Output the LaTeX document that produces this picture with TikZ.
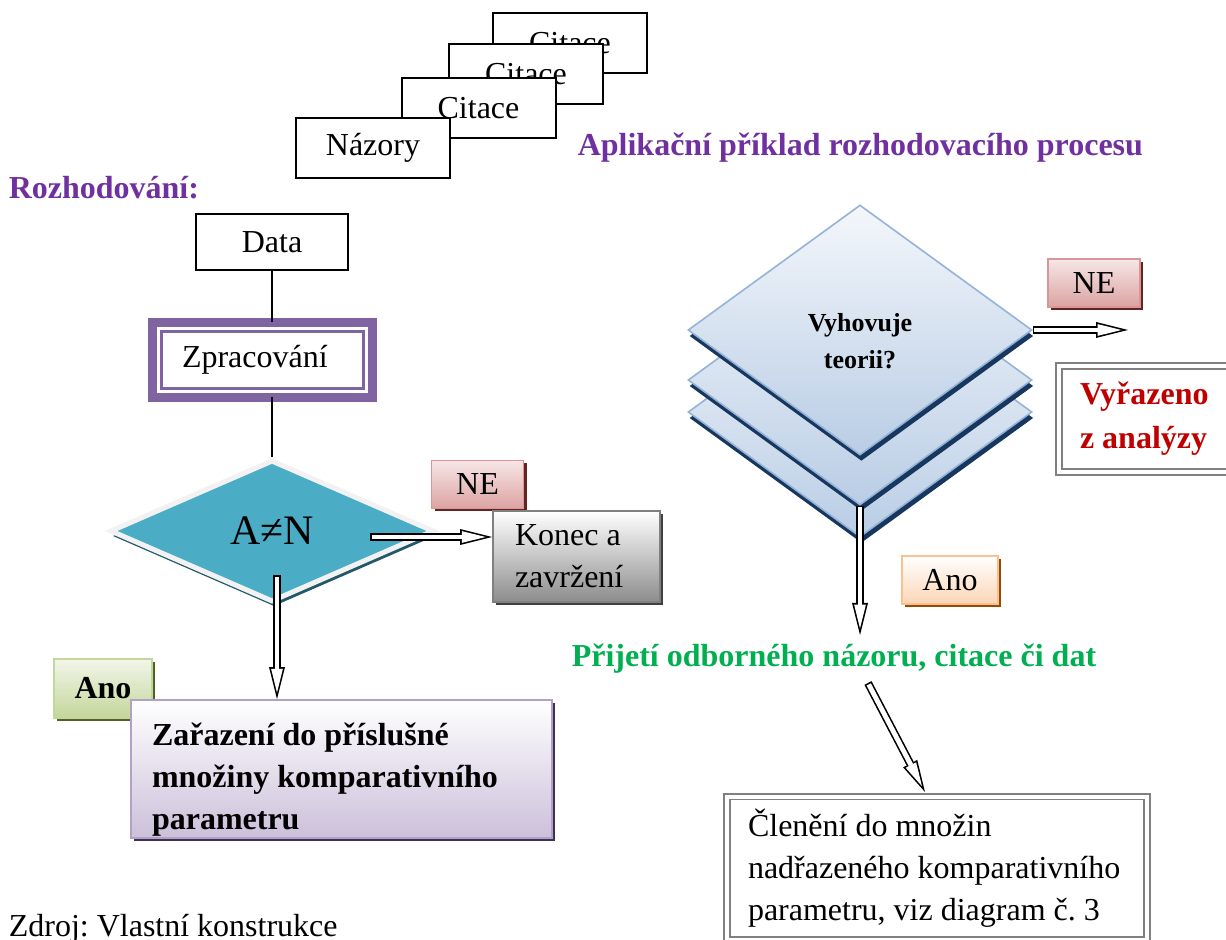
\documentclass[tikz,border=0pt]{standalone}
\usepackage{fontspec}
\setmainfont{Liberation Serif}
\usetikzlibrary{shapes.geometric, arrows.meta, shadows, positioning}
\frenchspacing

\definecolor{nadpisfial}{HTML}{7030A0}
\definecolor{ramfial}{HTML}{8064A2}
\definecolor{zelena}{HTML}{00B050}
\definecolor{cervena}{HTML}{C00000}
\definecolor{tyrkys}{HTML}{4BACC6}
\definecolor{tyrkysstin}{HTML}{215968}
\definecolor{nedraw}{HTML}{D99694}
\definecolor{netop}{HTML}{F7E6E6}
\definecolor{nebot}{HTML}{DBA3A2}
\definecolor{nestin}{HTML}{632523}
\definecolor{anodraw}{HTML}{C3D69B}
\definecolor{anotop}{HTML}{F2F6EA}
\definecolor{anobot}{HTML}{C3D69B}
\definecolor{anostin}{HTML}{4F6228}
\definecolor{zardraw}{HTML}{B2A1C7}
\definecolor{zarbot}{HTML}{CCC0DA}
\definecolor{zarstin}{HTML}{3F3151}
\definecolor{oranzdraw}{HTML}{FAC090}
\definecolor{oranzbot}{HTML}{FCD5B5}
\definecolor{oranzstin}{HTML}{984807}
\definecolor{modrdraw}{HTML}{95B3D7}
\definecolor{modrtop}{HTML}{F4F7FB}
\definecolor{modrbot}{HTML}{B9CDE5}
\definecolor{modrstin}{HTML}{17375E}

\begin{document}
\begin{tikzpicture}[x=0.5pt, y=-0.5pt, thick,
    every node/.style={font=\fontsize{16}{21}\selectfont},
    box/.style={draw, line width=1pt, fill=white, minimum width=77pt, minimum height=30pt, inner sep=0pt},
    nadpis/.style={anchor=base west, inner sep=0pt, font=\bfseries\fontsize{16}{21}\selectfont},
    ne/.style={draw=nedraw, line width=0.8pt, top color=netop, bottom color=nebot,
      drop shadow={shadow xshift=1.5pt, shadow yshift=-1.5pt, fill=nestin, opacity=1},
      minimum width=46pt, minimum height=24pt, inner sep=0pt},
    dbox/.style={draw=gray, line width=0.8pt, double=white, double distance=2pt,
      align=flush left, inner xsep=10.5pt, inner ysep=0pt},
    patro/.style={diamond, draw=modrdraw, line width=0.8pt, top color=modrtop, bottom color=modrbot,
      minimum width=172pt, minimum height=125pt, inner sep=0pt,
      drop shadow={shadow xshift=0.7pt, shadow yshift=-3pt, fill=modrstin, opacity=1}},
    sipka/.style={line width=4pt, -{Triangle[length=16pt 0, width=8pt 0, line width=0pt]},
      postaction={draw=white, line width=2.4pt, shorten <=0.8pt, shorten >=3.3pt,
        -{Triangle[length=11.9pt 0, width=5.9pt 0, line width=0pt]}}}]

  \useasboundingbox (0,0) rectangle (1226,940);

  \node[nadpis, text=nadpisfial] at (8,199) (H1) {Rozhodování:};
  \node[nadpis, text=nadpisfial] at (577,156) (H2) {Aplikační příklad rozhodovacího procesu};

  \node[box] at (570,43)      (C3) {Citace};
  \node[box] at (526,74.5)    (C2) {Citace};
  \node[box] at (478.5,108.5) (C1) {Citace};
  \node[box] at (373,148)     (N)  {Názory};

  \node[box, minimum width=76pt, minimum height=28pt] at (272,242) (D) {Data};
  \node[draw=ramfial, line width=4.5pt, outer sep=0pt, minimum width=110pt, minimum height=37.5pt,
        align=flush left, text width=80.5pt, inner xsep=14.75pt, inner ysep=0pt] at (262.5,360) (Zp) {Zpracování};
  \draw[ramfial, line width=1.3pt] ([xshift=4.4pt, yshift=-4.4pt]Zp.north west)
        rectangle ([xshift=-4.4pt, yshift=4.4pt]Zp.south east);

  \node[diamond, draw=black!5, line width=2.5pt, fill=tyrkys, minimum width=162pt, minimum height=71pt,
        inner sep=0pt, font=\fontsize{21}{25}\selectfont,
        drop shadow={shadow xshift=1pt, shadow yshift=-2.5pt, fill=tyrkysstin, opacity=1}]
        at (272,531) (A) {A≠N};

  \path (D.south) edge (D.south |- Zp.north)
        (Zp.south -| D.south) edge (A.north);

  \node[ne] at (477.5,484.5) (NE1) {NE};
  \node[draw=black!50, line width=0.8pt, top color=white, bottom color=black!45, align=flush left,
        drop shadow={shadow xshift=1.5pt, shadow yshift=-1.5pt, fill=black!75, opacity=1},
        minimum width=83.5pt, minimum height=45.5pt, text width=61.5pt, inner xsep=11pt, inner ysep=0pt]
        at (576.5,556.5) (K) {Konec a\\zavržení};

  \coordinate (a1) at (370,537);
  \draw[sipka] (a1) -- (a1 -| K.west);

  \node[draw=anodraw, line width=0.8pt, top color=anotop, bottom color=anobot,
        drop shadow={shadow xshift=1.5pt, shadow yshift=-1.5pt, fill=anostin, opacity=1},
        minimum width=49pt, minimum height=29.5pt, inner sep=0pt, font=\bfseries\fontsize{16}{21}\selectfont]
        at (103,688.5) (Ano1) {Ano};
  \node[draw=zardraw, line width=0.8pt, top color=white, bottom color=zarbot, align=flush left,
        drop shadow={shadow xshift=1.5pt, shadow yshift=-1.5pt, fill=zarstin, opacity=1},
        minimum width=210.5pt, minimum height=69pt, text width=189.5pt, inner xsep=10.5pt, inner ysep=0pt,
        font=\bfseries\fontsize{16}{21}\selectfont]
        at (341.5,769) (Zar) {\rule{0pt}{22pt}Zařazení do příslušné\\množiny komparativního\\parametru};

  \coordinate (a2) at (277,575);
  \draw[sipka] (a2) -- (a2 |- Zar.north);

  \foreach \y/\jm in {412/D3, 380/D2, 330/D1}
    \node[patro] at (860,\y) (\jm) {};
  \node[align=center, inner sep=0pt, font=\bfseries\fontsize{13}{18.5}\selectfont]
        at (860,341) (T) {Vyhovuje\\teorii?};

  \node[ne] at (1094,283) (NE2) {NE};
  \coordinate (a3) at (1128,330);
  \draw[sipka] (D1.east) -- (a3);

  \node[dbox, text=cervena, font=\bfseries\fontsize{16}{22}\selectfont,
        minimum width=95pt, minimum height=53pt, text width=74pt]
        at (1154,419) (R) {Vyřazeno\\z analýzy};

  \coordinate (a4) at (860,635);
  \draw[sipka] (D2.south) -- (a4);

  \node[draw=oranzdraw, line width=0.8pt, top color=white, bottom color=oranzbot,
        drop shadow={shadow xshift=1.5pt, shadow yshift=-1.5pt, fill=oranzstin, opacity=1},
        minimum width=48pt, minimum height=24pt, inner sep=0pt]
        at (950,580) (Ano2) {Ano};

  \node[nadpis, text=zelena] at (571,667) (P) {Přijetí odborného názoru, citace či dat};

  \coordinate (a5) at (868,683);
  \coordinate (a6) at (925,792);
  \draw[sipka] (a5) -- (a6);

  \node[dbox, minimum width=210pt, minimum height=71.5pt, text width=189pt]
        at (937,868) (Cl) {Členění do množin\\nadřazeného komparativního\\parametru, viz diagram č. 3};

  \node[anchor=base west, inner sep=0pt] at (8,936) (Z) {Zdroj: Vlastní konstrukce};

\end{tikzpicture}
\end{document}
